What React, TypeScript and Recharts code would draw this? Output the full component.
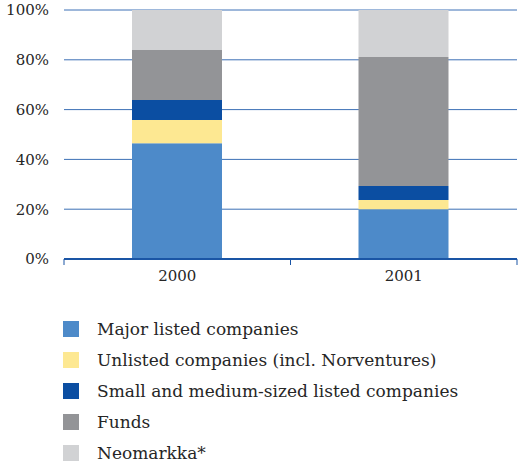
import { BarChart, Bar, XAxis, YAxis, CartesianGrid, Legend } from 'recharts'

const categories = ['2000', '2001']
const majorListed = [46.5, 20.0]
const unlisted = [9.3, 3.7]
const smallMedium = [8.1, 5.6]
const funds = [20.0, 51.8]
const neomarkka = [16.1, 18.9]
const yTicks = [0, 20, 40, 60, 80, 100]

const series = [
  { key: 'major', name: 'Major listed companies', color: '#4d8ac9', values: majorListed },
  { key: 'unlisted', name: 'Unlisted companies (incl. Norventures)', color: '#fde892', values: unlisted },
  { key: 'small', name: 'Small and medium-sized listed companies', color: '#0b4ea2', values: smallMedium },
  { key: 'funds', name: 'Funds', color: '#939497', values: funds },
  { key: 'neomarkka', name: 'Neomarkka*', color: '#d1d2d4', values: neomarkka },
]

const data = categories.map((year, i) => {
  const row: Record<string, string | number> = { year }
  series.forEach((s) => (row[s.key] = s.values[i]))
  return row
})

const FONT = '"DejaVu Serif", serif'
const AXIS_BLUE = '#1a55a5'
const TEXT = '#262626'

function YearTick(props: any) {
  const { x, y, payload, index, visibleTicksCount } = props
  const half = payload?.offset ?? 113.5
  const top = 259
  return (
    <g>
      <line x1={x - half} x2={x - half} y1={top} y2={top + 6} stroke={AXIS_BLUE} strokeWidth={1} />
      {index === visibleTicksCount - 1 && (
        <line x1={x + half} x2={x + half} y1={top} y2={top + 6} stroke={AXIS_BLUE} strokeWidth={1} />
      )}
      <text x={x} y={y + 14} textAnchor="middle" fill={TEXT} fontSize={15} fontFamily={FONT}>
        {payload.value}
      </text>
    </g>
  )
}

function LegendList() {
  return (
    <div style={{ fontFamily: FONT, fontSize: 17, color: TEXT }}>
      {series.map((s) => (
        <div key={s.key} style={{ display: 'flex', alignItems: 'center', height: 31 }}>
          <span style={{ width: 16, height: 16, background: s.color, marginRight: 18, display: 'inline-block' }} />
          <span>{s.name}</span>
        </div>
      ))}
    </div>
  )
}

export default function App() {
  return (
    <div style={{ position: 'absolute', left: 0, top: 0, width: 518, height: 463, background: '#fff' }}>
      <BarChart
        width={518}
        height={463}
        data={data}
        margin={{ top: 10, right: 1, bottom: 174, left: 0 }}
        barSize={90}
      >
        <CartesianGrid vertical={false} stroke="#3c70b6" strokeWidth={1} />
        <XAxis
          dataKey="year"
          height={30}
          axisLine={{ stroke: AXIS_BLUE, strokeWidth: 2 }}
          tickLine={false}
          tick={<YearTick />}
        />
        <YAxis
          width={64}
          domain={[0, 100]}
          ticks={yTicks}
          axisLine={false}
          tickLine={false}
          tickSize={6}
          tickMargin={9}
          tickFormatter={(v) => `${v}%`}
          tick={{ fill: TEXT, fontSize: 15, fontFamily: FONT }}
        />
        <Legend
          layout="horizontal"
          verticalAlign="middle"
          align="center"
          wrapperStyle={{ top: 313, left: 63, width: 455 }}
          content={<LegendList />}
        />
        {series.map((s) => (
          <Bar key={s.key} dataKey={s.key} name={s.name} stackId="a" fill={s.color} isAnimationActive={false} />
        ))}
      </BarChart>
    </div>
  )
}
